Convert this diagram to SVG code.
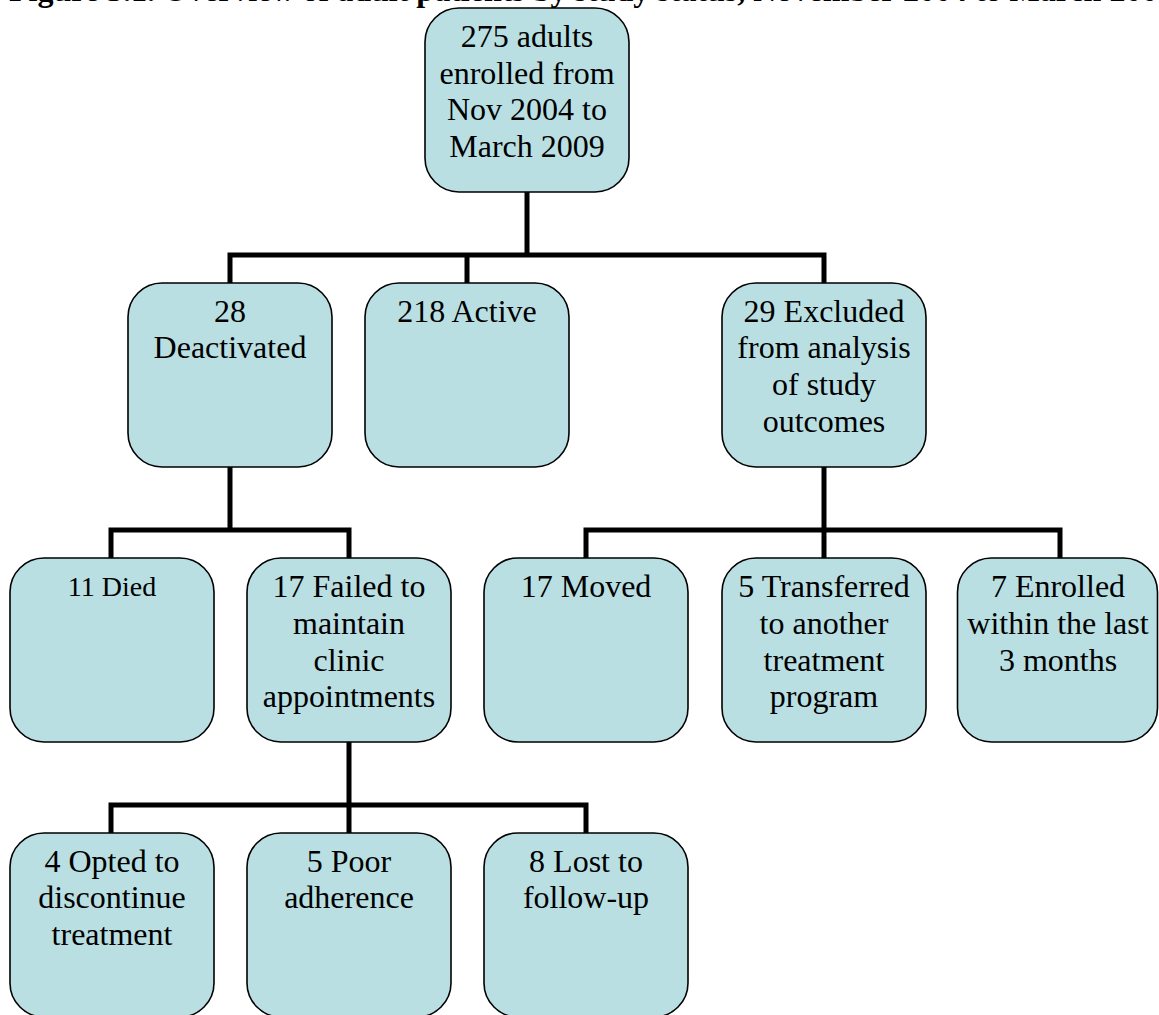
<svg xmlns="http://www.w3.org/2000/svg" width="1159" height="1015" viewBox="0 0 1159 1015">
  <style>
    .box { fill: #B9DFE3; stroke: #000; stroke-width: 1.6; }
    .t { font-family: "Liberation Serif", "Times New Roman", serif; font-size: 32px; fill: #000; text-anchor: middle; }
    .title { font-family: "Liberation Serif", "Times New Roman", serif; font-size: 32px; font-weight: bold; fill: #000; }
    .conn { fill: none; stroke: #000; stroke-width: 5; stroke-linejoin: miter; stroke-linecap: butt; }
  </style>
  <rect width="1159" height="1015" fill="#fff"/>
  <text class="title" x="9" y="1">Figure 3.1. Overview of adult patients by study status, November 2004 to March 2009</text>
  <g id="connectors">
    <path class="conn" d="M527 192 V255 M230 283 V255 H824 V283 M467 255 V283"/>
    <path class="conn" d="M230 467 V530 M111 558 V530 H349 V558"/>
    <path class="conn" d="M824 467 V530 M586 558 V530 H1060 V558 M824 530 V558"/>
    <path class="conn" d="M349 742 V805 M111 833 V805 H586 V833 M349 805 V833"/>
  </g>
  <g id="n-enrolled">
    <rect class="box" x="425" y="8" width="204" height="184" rx="34"/>
    <text class="t" x="527" y="47">275 adults</text>
    <text class="t" x="527" y="84">enrolled from</text>
    <text class="t" x="527" y="120">Nov 2004 to</text>
    <text class="t" x="527" y="157">March 2009</text>
  </g>
  <g id="n-deactivated">
    <rect class="box" x="128" y="283" width="204" height="184" rx="34"/>
    <text class="t" x="230" y="322">28</text>
    <text class="t" x="230" y="358">Deactivated</text>
  </g>
  <g id="n-active">
    <rect class="box" x="365" y="283" width="204" height="184" rx="34"/>
    <text class="t" x="467" y="322">218 Active</text>
  </g>
  <g id="n-excluded">
    <rect class="box" x="722" y="283" width="204" height="184" rx="34"/>
    <text class="t" x="824" y="322">29 Excluded</text>
    <text class="t" x="824" y="358">from analysis</text>
    <text class="t" x="824" y="395">of study</text>
    <text class="t" x="824" y="432">outcomes</text>
  </g>
  <g id="n-died">
    <rect class="box" x="10" y="558" width="204" height="184" rx="34"/>
    <text class="t" x="112" y="596" style="font-size:28px">11 Died</text>
  </g>
  <g id="n-failed">
    <rect class="box" x="247" y="558" width="204" height="184" rx="34"/>
    <text class="t" x="349" y="597">17 Failed to</text>
    <text class="t" x="349" y="634">maintain</text>
    <text class="t" x="349" y="671">clinic</text>
    <text class="t" x="349" y="707">appointments</text>
  </g>
  <g id="n-moved">
    <rect class="box" x="484" y="558" width="204" height="184" rx="34"/>
    <text class="t" x="586" y="597">17 Moved</text>
  </g>
  <g id="n-transferred">
    <rect class="box" x="722" y="558" width="204" height="184" rx="34"/>
    <text class="t" x="824" y="597">5 Transferred</text>
    <text class="t" x="824" y="634">to another</text>
    <text class="t" x="824" y="671">treatment</text>
    <text class="t" x="824" y="707">program</text>
  </g>
  <g id="n-recent">
    <rect class="box" x="957.5" y="558" width="200" height="184" rx="34"/>
    <text class="t" x="1058" y="597">7 Enrolled</text>
    <text class="t" x="1058" y="634">within the last</text>
    <text class="t" x="1058" y="671">3 months</text>
  </g>
  <g id="n-opted">
    <rect class="box" x="10" y="833" width="204" height="184" rx="34"/>
    <text class="t" x="112" y="872">4 Opted to</text>
    <text class="t" x="112" y="908">discontinue</text>
    <text class="t" x="112" y="945">treatment</text>
  </g>
  <g id="n-poor">
    <rect class="box" x="247" y="833" width="204" height="184" rx="34"/>
    <text class="t" x="349" y="872">5 Poor</text>
    <text class="t" x="349" y="908">adherence</text>
  </g>
  <g id="n-lost">
    <rect class="box" x="484" y="833" width="204" height="184" rx="34"/>
    <text class="t" x="586" y="872">8 Lost to</text>
    <text class="t" x="586" y="908">follow-up</text>
  </g>
</svg>
